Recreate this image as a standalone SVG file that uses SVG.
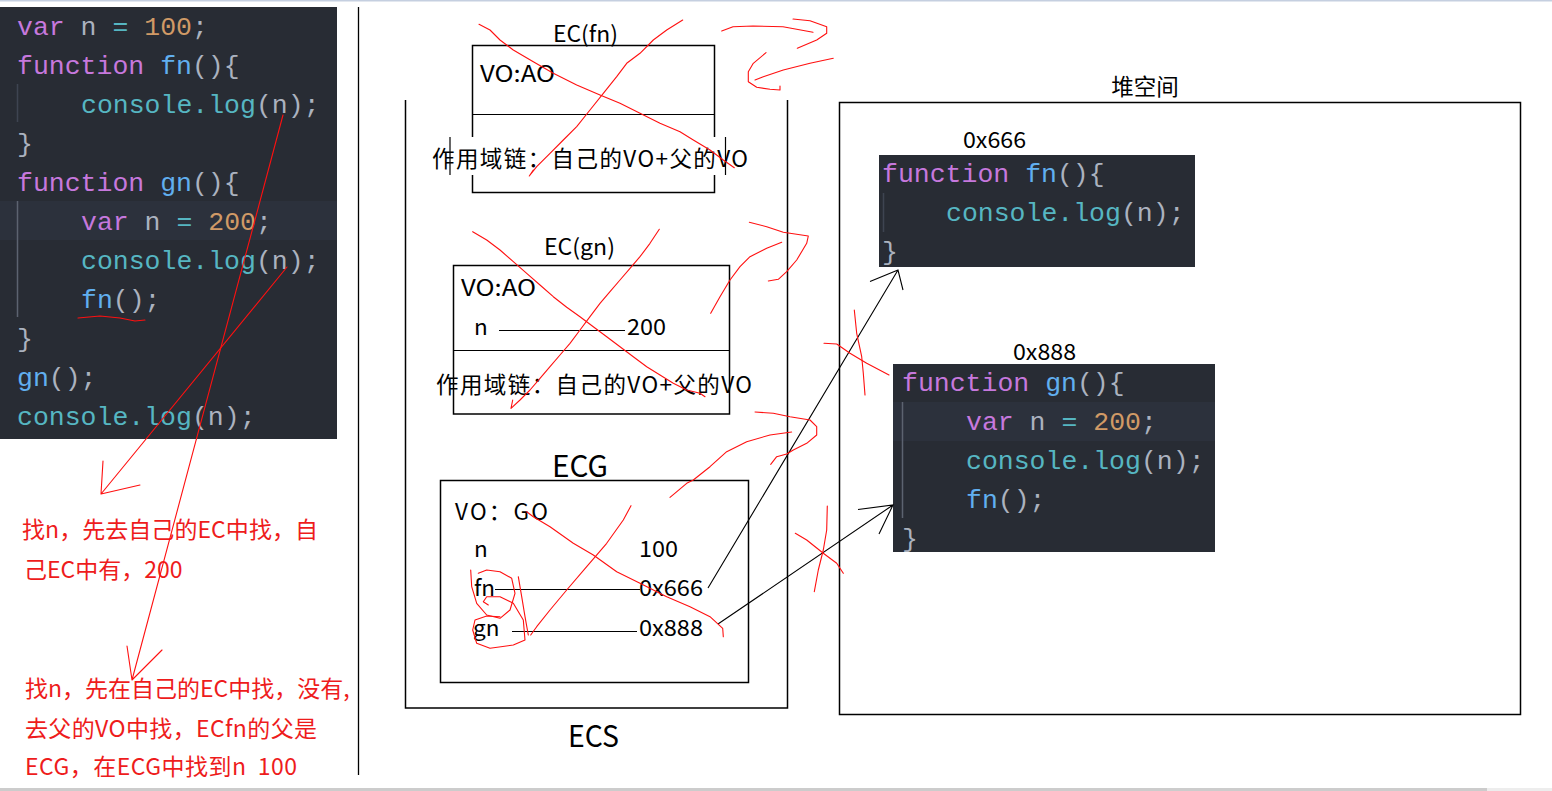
<svg xmlns="http://www.w3.org/2000/svg" width="1552" height="791" viewBox="0 0 1552 791">
<style>
.code{font-family:"Liberation Mono","DejaVu Sans Mono",monospace;font-size:26.5px}
.kw{fill:#c678dd}.num{fill:#d19a66}.fnm{fill:#61afef}.cl{fill:#56b6c2}.p{fill:#abb2bf}
.lbl{font-family:"Noto Sans CJK SC","Noto Sans",sans-serif;font-size:22.5px;fill:#000}
.big{font-family:"Noto Sans CJK SC","Noto Sans",sans-serif;font-size:30px;fill:#000}
.note{font-family:"Noto Sans CJK SC","Noto Sans",sans-serif;font-size:23px;fill:#ee1c1c}
.box{fill:none;stroke:#000;stroke-width:1.5}
.ln{stroke:#000;stroke-width:1.2;fill:none}
.red{fill:none;stroke:#ff1010;stroke-width:1.1;stroke-linejoin:round;stroke-linecap:round}
.blk{fill:none;stroke:#000;stroke-width:1.1}
.bg{fill:#282c34}.hl{fill:#2c313c}
</style>
<rect width="1552" height="791" fill="#fff"/>
<rect x="0" y="0" width="1552" height="1.5" fill="#c5cfe0"/>
<rect x="0" y="788" width="1487" height="3" fill="#cccccc"/>
<rect x="1487" y="788" width="65" height="3" fill="#ededed"/>

<g id="code-panel" xml:space="preserve">
<rect class="bg" x="0" y="7" width="337" height="432"/>
<rect class="hl" x="0" y="201" width="337" height="39"/>
<line x1="17.5" y1="84" x2="17.5" y2="122" stroke="#3e4451" stroke-width="1.5"/>
<line x1="17.5" y1="201" x2="17.5" y2="317" stroke="#5c6370" stroke-width="1.5"/>
<text class="code" x="17" y="35"><tspan class="kw">var</tspan><tspan class="p"> n </tspan><tspan class="cl">=</tspan><tspan class="p"> </tspan><tspan class="num">100</tspan><tspan class="p">;</tspan></text>
<text class="code" x="17" y="74"><tspan class="kw">function</tspan><tspan class="p"> </tspan><tspan class="fnm">fn</tspan><tspan class="p">(){</tspan></text>
<text class="code" x="81" y="113"><tspan class="cl">console.log</tspan><tspan class="p">(n);</tspan></text>
<text class="code p" x="17" y="152">}</text>
<text class="code" x="17" y="191"><tspan class="kw">function</tspan><tspan class="p"> </tspan><tspan class="fnm">gn</tspan><tspan class="p">(){</tspan></text>
<text class="code" x="81" y="230"><tspan class="kw">var</tspan><tspan class="p"> n </tspan><tspan class="cl">=</tspan><tspan class="p"> </tspan><tspan class="num">200</tspan><tspan class="p">;</tspan></text>
<text class="code" x="81" y="269"><tspan class="cl">console.log</tspan><tspan class="p">(n);</tspan></text>
<text class="code" x="81" y="308"><tspan class="fnm">fn</tspan><tspan class="p">();</tspan></text>
<text class="code p" x="17" y="347">}</text>
<text class="code" x="17" y="386"><tspan class="fnm">gn</tspan><tspan class="p">();</tspan></text>
<text class="code" x="17" y="425"><tspan class="cl">console.log</tspan><tspan class="p">(n);</tspan></text>
</g>

<line x1="358.5" y1="7" x2="358.5" y2="775" stroke="#000" stroke-width="1.3"/>

<g id="notes">
<text class="note" x="22" y="538" textLength="296" lengthAdjust="spacing">找n，先去自己的EC中找，自</text>
<text class="note" x="24" y="578">己EC中有，200</text>
<text class="note" x="25" y="697">找n，先在自己的EC中找，没有,</text>
<text class="note" x="25" y="737" textLength="292" lengthAdjust="spacing">去父的VO中找，ECfn的父是</text>
<text class="note" x="25" y="775" textLength="272" lengthAdjust="spacing" xml:space="preserve">ECG，在ECG中找到n  100</text>
</g>

<g id="ecs">
<path class="box" d="M405.5,100 V708 H787.5 V100"/>
<text class="big" x="568" y="747" textLength="51" lengthAdjust="spacingAndGlyphs">ECS</text>
</g>

<g id="ec-fn">
<text class="lbl" x="553" y="42" textLength="65" lengthAdjust="spacingAndGlyphs">EC(fn)</text>
<rect class="box" x="472.5" y="45.5" width="242" height="147"/>
<line class="ln" x1="472.5" y1="114.5" x2="714.5" y2="114.5"/>
<text class="lbl" x="480" y="82" textLength="75" lengthAdjust="spacingAndGlyphs">VO:AO</text>
<rect x="450" y="137" width="275.5" height="38" fill="#fff"/>
<line class="ln" x1="450" y1="137" x2="450" y2="175"/>
<line class="ln" x1="725.5" y1="137" x2="725.5" y2="175"/>
<text class="lbl" x="432" y="167" textLength="316" lengthAdjust="spacing">作用域链：自己的VO+父的VO</text>
</g>

<g id="ec-gn">
<text class="lbl" x="544" y="255" textLength="71" lengthAdjust="spacingAndGlyphs">EC(gn)</text>
<rect class="box" x="453.5" y="265.5" width="276" height="148.5"/>
<line class="ln" x1="453.5" y1="350.5" x2="729.5" y2="350.5"/>
<text class="lbl" x="461" y="296" textLength="75" lengthAdjust="spacingAndGlyphs">VO:AO</text>
<text class="lbl" x="474" y="335">n</text>
<line class="ln" x1="499" y1="330.5" x2="625" y2="330.5"/>
<text class="lbl" x="627" y="335" textLength="39" lengthAdjust="spacingAndGlyphs">200</text>
<text class="lbl" x="436" y="393" textLength="316" lengthAdjust="spacing">作用域链：自己的VO+父的VO</text>
</g>

<g id="ecg">
<text class="big" x="552" y="477" textLength="56" lengthAdjust="spacingAndGlyphs">ECG</text>
<rect class="box" x="440.5" y="480.5" width="308" height="202"/>
<text class="lbl" x="455" y="520" textLength="93" lengthAdjust="spacing" xml:space="preserve">VO：GO</text>
<text class="lbl" x="474" y="557">n</text>
<text class="lbl" x="639" y="557" textLength="39" lengthAdjust="spacingAndGlyphs">100</text>
<text class="lbl" x="474" y="596">fn</text>
<line class="ln" x1="495" y1="589.5" x2="640" y2="589.5"/>
<text class="lbl" x="639" y="596" textLength="64" lengthAdjust="spacingAndGlyphs">0x666</text>
<text class="lbl" x="473" y="636">gn</text>
<line class="ln" x1="512" y1="631.5" x2="637" y2="631.5"/>
<text class="lbl" x="639" y="636" textLength="64" lengthAdjust="spacingAndGlyphs">0x888</text>
</g>

<g id="heap">
<text class="lbl" x="1145" y="95" text-anchor="middle">堆空间</text>
<rect class="box" x="839.5" y="102.5" width="681" height="612"/>
</g>

<g id="heap-fn" xml:space="preserve">
<text class="lbl" x="963" y="148" textLength="63" lengthAdjust="spacingAndGlyphs">0x666</text>
<rect class="bg" x="879" y="155" width="316" height="112"/>
<line x1="883.5" y1="193" x2="883.5" y2="232" stroke="#3e4451" stroke-width="1.5"/>
<text class="code" x="882" y="182"><tspan class="kw">function</tspan><tspan class="p"> </tspan><tspan class="fnm">fn</tspan><tspan class="p">(){</tspan></text>
<text class="code" x="946" y="221"><tspan class="cl">console.log</tspan><tspan class="p">(n);</tspan></text>
<text class="code p" x="882" y="260">}</text>
</g>

<g id="heap-gn" xml:space="preserve">
<text class="lbl" x="1013" y="360" textLength="63" lengthAdjust="spacingAndGlyphs">0x888</text>
<rect class="bg" x="893" y="364" width="322" height="188"/>
<rect class="hl" x="893" y="402" width="322" height="39"/>
<line x1="902.5" y1="402" x2="902.5" y2="518" stroke="#5c6370" stroke-width="1.5"/>
<text class="code" x="902" y="391"><tspan class="kw">function</tspan><tspan class="p"> </tspan><tspan class="fnm">gn</tspan><tspan class="p">(){</tspan></text>
<text class="code" x="966" y="430"><tspan class="kw">var</tspan><tspan class="p"> n </tspan><tspan class="cl">=</tspan><tspan class="p"> </tspan><tspan class="num">200</tspan><tspan class="p">;</tspan></text>
<text class="code" x="966" y="469"><tspan class="cl">console.log</tspan><tspan class="p">(n);</tspan></text>
<text class="code" x="966" y="508"><tspan class="fnm">fn</tspan><tspan class="p">();</tspan></text>
<text class="code p" x="902" y="547">}</text>
</g>

<g id="connectors">
<path class="blk" d="M708,588 L898,270 M870,281.5 L898,270 L903,290"/>
<path class="blk" d="M718,624 L893,505 M858,509.5 L893,505 L879,534"/>
<path class="red" d="M287,267 L101,494 M103,461 L101,494 L140,485"/>
<path class="red" d="M283,115 L132,680 M127,646 L132,680 L162,650"/>
</g>

<g id="scribbles">
<path class="red" d="M78,318 L100,316 L120,318 L135,321 L145,320"/>
<polyline class="red" points="479,24.3 490,30 500,40 513.3,50 533.3,61.7 553.3,73.3 576.7,85 600,95 620,103.3 640,113.3 660,123.3 680,131.7 693.3,140 710,150 723.3,160 734.3,167.7"/>
<polyline class="red" points="682.7,20 666.7,30 653.3,40 640,53.3 626.7,63.3 616.7,76.7 603.3,93.3 590,110 576.7,126.7 563.3,140 550,153.3 536.7,166.7 529.3,176 533.3,170"/>
<polyline class="red" points="721.7,31 733,26.7 753,26 783,26.7 813,32.3"/>
<polyline class="red" points="793,19 810,20.7 826.7,26.7 826.7,33.3 816.7,40 797.3,48.3"/>
<polyline class="red" points="833.3,58.3 810,63.3 783.3,70 763.3,76.7 755,80"/>
<polyline class="red" points="766,52.7 753.3,63.3 748.3,71.7 748.3,81.7 756.7,87.3 770,89.3 780,90 780,86"/>
<polyline class="red" points="472.7,231.7 486.7,240 500,250 513.3,261.7 526.7,273.3 540,285 553.3,296.7 566.7,307.3 580,316.7 593.3,326.7 606.7,336.7 620,346.7 633.3,356.7 646.7,366.7 660,375 673.3,383.3 686.7,390 700,393.3 705,396.7"/>
<polyline class="red" points="659.3,229.3 650,243.3 640,256.7 630,268.3 620,280 610,291.7 600,303.3 590,316.7 580,330 570,343.3 560,355 550,366.7 540,378.3 530,390 520,400 511,408.3 512.7,400"/>
<polyline class="red" points="749.3,222.3 766.7,226.7 783.3,232.3 808.3,236 806.7,243.3 796.7,260 786.7,271.7 778.3,279.3 768.3,281"/>
<polyline class="red" points="781.7,242.3 766.7,248.3 750,256.7 740,266.7 730,280 720,296.7 710.7,313.3"/>
<polyline class="red" points="755,412 773.3,413.3 790,416.7 810,420 816.7,426.7 816.7,435 806.7,443.3 793.3,450 786.7,454 776.7,456.7 770.7,464.3"/>
<polyline class="red" points="791.7,432 770,435 746.7,441.7 726.7,451.7 710,466.7 693.3,480 686.7,483.3 670,497.3"/>
<polyline class="red" points="854.3,310 856.7,333.3 861.7,356.7 863.3,373.3 865,395"/>
<polyline class="red" points="824,343.3 836.7,344 850,353.3 866.7,363.3 889,375"/>
<polyline class="red" points="827.3,506 826.7,530 823.3,550 818.3,570 814.3,591.7"/>
<polyline class="red" points="795.3,533.3 806.7,540 823.3,553.3 836.7,563.3 843.3,573.3"/>
<polyline class="red" points="526.7,511.7 533.3,516.7 550,526.7 573.3,543.3 593.3,555 616.7,571.7 640,583.3 666.7,596.7 690,606.7 710,616.7 722.7,628.3 723.3,636.7"/>
<polyline class="red" points="631,505.7 623.3,520 606.7,543.3 586.7,566.7 566.7,590 550,610 536.7,626.7 530.7,635"/>
<polyline class="red" points="518.3,576.7 521.7,596.7 525,616.7 528.3,635"/>
<polyline class="red" points="470.7,570 471.7,586.7 476.7,603.3 486.7,615 500,618.3 510,610 515,593.3 511.7,578.3 500,571.7 486.7,570 478.3,573.3"/>
<polyline class="red" points="488.3,605 483.3,601.7 486.7,596.7 500,596.7 513.3,603.3 523.3,620 525,640 513.3,645 490,648.3 476.7,643.3 472.7,630 475,620 486.7,616 500,616.7"/>
</g>
</svg>
